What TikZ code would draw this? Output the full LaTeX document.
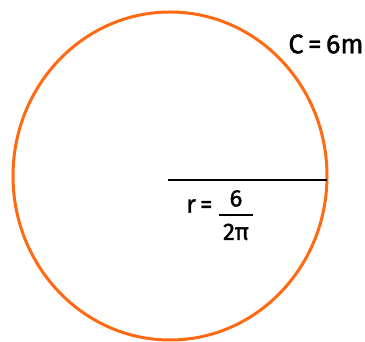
\documentclass[tikz,border=0pt]{standalone}
\usepackage{fontspec}
\setmainfont{Fira Sans}
\newfontfamily\hand[FakeBold=1.3]{Fira Sans}
\definecolor{circ}{HTML}{FF6A13}
\begin{document}
\begin{tikzpicture}[x=1pt,y=1pt,
  lbl/.style={inner sep=0pt,font=\hand\fontsize{24}{26}\selectfont},
  rim/.style={draw=circ,line width=3pt},
  rad/.style={draw=black,line width=2.8pt}]
\useasboundingbox (0,0) rectangle (365,342);
\path[rim] (170,166) ellipse [x radius=157, y radius=164];
\coordinate (o) at (168,162);
\coordinate (e) at (327,162);
\draw[rad] (o) -- (e);
\node[lbl,font=\hand\fontsize{27}{29}\selectfont] (c) at (326,298) {C\,=\,6m};
\node[lbl,anchor=west,font=\hand\fontsize{25}{27}\selectfont] (r) at (186,136) {r\,=};
\node[lbl,anchor=west] (f) at (219,124) {\begin{tabular}{@{}c@{}}\ \,6\ \,\\[0pt]\noalign{\hrule height 1.8pt}\rule{0pt}{24pt}2π\end{tabular}};
\end{tikzpicture}
\end{document}
